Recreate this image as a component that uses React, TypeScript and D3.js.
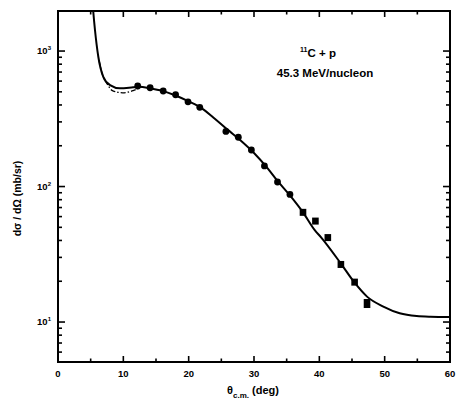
import { useRef, useEffect } from "react";
import * as d3 from "d3";

// measured cross sections (angle in deg, dσ/dΩ in mb/sr)
const angles = [12.2, 14.1, 16.1, 18.0, 19.9, 21.7, 25.7, 27.6, 29.6, 31.6, 33.6, 35.5, 37.5, 39.4, 41.3, 43.3, 45.4, 47.3];
const sigma = [552, 536, 507, 476, 422, 384, 255, 231, 186, 142, 108, 87.5, 64.5, 55.6, 42, 26.6, 19.7, 13.7];
// first 12 points drawn as dots, rest as squares
const nDots = 12;

// full calculation (solid)
const solidX = [5.2, 5.4, 5.66, 6.17, 6.93, 7.96, 9.49, 11.5, 12.5, 14, 16, 18, 20, 22, 24, 26, 28, 30, 32, 33.6, 35.5, 37.5, 39.3, 40.3, 43.3, 45.4, 47.3, 49.8, 52.3, 54.9, 57, 60];
const solidY = [2600, 1950, 1430, 908, 646, 561, 531, 540, 545, 532, 508, 470, 425, 378, 317, 262, 218, 177, 138, 110, 86, 64.5, 47.7, 42, 27, 19.5, 15.4, 13.0, 11.6, 11.07, 10.95, 10.9];

// alternate calculation (dash-dot), only differs at small angles
const dashX = [6.3, 6.8, 7.4, 8.4, 9.9, 11.5, 12.8];
const dashY = [850, 670, 585, 508, 492, 510, 545];

const xTicks = [0, 10, 20, 30, 40, 50, 60];
const yDecades = [1, 2, 3];

export default function App() {
  const svgRef = useRef<SVGSVGElement>(null);
  const width = 456;
  const height = 404;

  useEffect(() => {
    if (!svgRef.current) return;
    const svg = d3.select(svgRef.current);
    svg.selectAll("*").remove();

    const left = 58, right = 450, top = 11, bottom = 362;
    const x = d3.scaleLinear().domain([0, 60]).range([left, right]);
    const y = d3.scaleLog().domain([5.07, 1975]).range([bottom, top]);

    const font = "'Liberation Sans', Arial, sans-serif";

    svg.append("clipPath").attr("id", "plot-clip")
      .append("rect")
      .attr("x", left).attr("y", top)
      .attr("width", right - left).attr("height", bottom - top);

    // ticks, all pointing inward
    const ticks = svg.append("g").attr("stroke", "#000").attr("stroke-width", 1.6);
    for (let v = 0; v <= 60; v += 5) {
      const len = v % 10 === 0 ? 6 : 3.5;
      if (v === 0 || v === 60) continue;
      ticks.append("line").attr("x1", x(v)).attr("x2", x(v)).attr("y1", bottom).attr("y2", bottom - len);
      ticks.append("line").attr("x1", x(v)).attr("x2", x(v)).attr("y1", top).attr("y2", top + len);
    }
    const yMinor: number[] = [];
    for (let e = 0; e <= 3; e++) {
      for (let m = 1; m <= 9; m++) {
        const v = m * Math.pow(10, e);
        if (v > 5.07 && v < 1975) yMinor.push(v);
      }
    }
    yMinor.forEach((v) => {
      const major = Math.abs(Math.log10(v) - Math.round(Math.log10(v))) < 1e-9;
      const len = major ? 7 : 4;
      ticks.append("line").attr("x1", left).attr("x2", left + len).attr("y1", y(v)).attr("y2", y(v));
      ticks.append("line").attr("x1", right).attr("x2", right - len).attr("y1", y(v)).attr("y2", y(v));
    });

    // frame
    svg.append("rect")
      .attr("x", left).attr("y", top)
      .attr("width", right - left).attr("height", bottom - top)
      .attr("fill", "none").attr("stroke", "#000").attr("stroke-width", 2);

    const line = d3.line<number>()
      .x((d, i) => x(d))
      .curve(d3.curveMonotoneX);

    const plot = svg.append("g").attr("clip-path", "url(#plot-clip)");

    plot.append("path")
      .attr("d", line.y((d, i) => y(dashY[i]))(dashX))
      .attr("fill", "none")
      .attr("stroke", "#000")
      .attr("stroke-width", 1.3)
      .attr("stroke-dasharray", "5,2,1.5,2");

    plot.append("path")
      .attr("d", line.y((d, i) => y(solidY[i]))(solidX))
      .attr("fill", "none")
      .attr("stroke", "#000")
      .attr("stroke-width", 2);

    angles.forEach((a, i) => {
      if (i < nDots) {
        plot.append("circle").attr("cx", x(a)).attr("cy", y(sigma[i])).attr("r", 3.4).attr("fill", "#000");
      } else {
        const h = i === angles.length - 1 ? 9 : 7;
        plot.append("rect")
          .attr("x", x(a) - 3.3).attr("y", y(sigma[i]) - h / 2)
          .attr("width", 6.6).attr("height", h).attr("fill", "#000");
      }
    });

    // tick labels
    const tl = svg.append("g").attr("font-family", font).attr("font-weight", "bold").attr("font-size", 9.5).attr("fill", "#000");
    xTicks.forEach((v) => {
      tl.append("text").attr("x", x(v)).attr("y", bottom + 15).attr("text-anchor", "middle").text(v);
    });
    yDecades.forEach((e) => {
      const t = tl.append("text").attr("x", left - 7).attr("y", y(Math.pow(10, e)) + 3).attr("text-anchor", "end");
      t.append("tspan").text("10");
      t.append("tspan").attr("dy", -4).attr("font-size", 6).text(e);
    });

    // axis titles
    const xl = svg.append("text")
      .attr("x", 253).attr("y", 394)
      .attr("text-anchor", "middle")
      .attr("font-family", font).attr("font-weight", "bold").attr("font-size", 11);
    xl.append("tspan").text("θ");
    xl.append("tspan").attr("dy", 4).attr("font-size", 8).text("c.m.");
    xl.append("tspan").attr("dy", -4).text(" (deg)");

    svg.append("text")
      .attr("transform", `translate(21,${(top + bottom) / 2 + 12}) rotate(-90)`)
      .attr("text-anchor", "middle")
      .attr("font-family", font).attr("font-weight", "bold").attr("font-size", 10.5)
      .text("dσ / dΩ (mb/sr)");

    // annotation
    const ann = svg.append("g").attr("font-family", font).attr("font-weight", "bold").attr("font-size", 11.5);
    const t1 = ann.append("text").attr("x", 318).attr("y", 57).attr("text-anchor", "middle");
    t1.append("tspan").attr("font-size", 7).attr("dy", -5).text("11");
    t1.append("tspan").attr("dy", 5).text("C + p");
    ann.append("text").attr("x", 325).attr("y", 77).attr("text-anchor", "middle").text("45.3 MeV/nucleon");
  }, []);

  return (
    <svg
      ref={svgRef}
      width={width}
      height={height}
      style={{ position: "absolute", left: 0, top: 0, background: "#fff" }}
    ></svg>
  );
}
